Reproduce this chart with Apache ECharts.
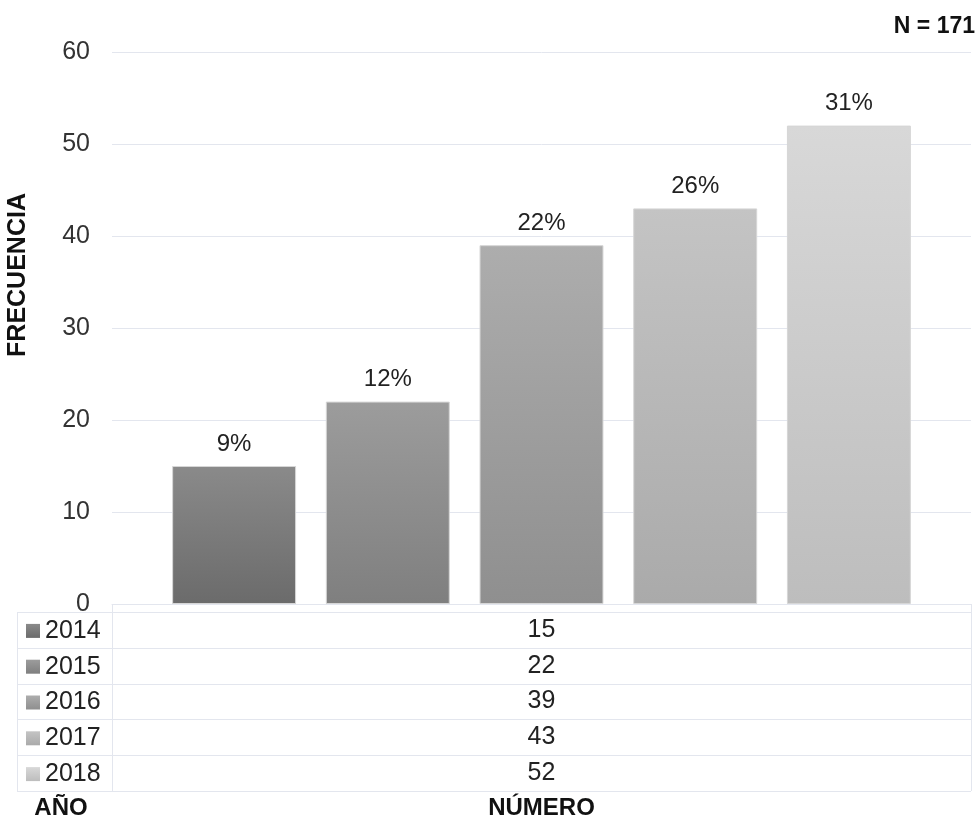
<!DOCTYPE html>
<html>
<head>
<meta charset="utf-8">
<script src="https://cdn.jsdelivr.net/npm/echarts@6/dist/echarts.min.js"></script>
<style>
html,body{margin:0;padding:0;background:#fff;}
#main{width:980px;height:825px;}
</style>
</head>
<body>
<div id="main"></div>
<script>
// ---- data ----
var years = ['2014', '2015', '2016', '2017', '2018'];
var values = [15, 22, 39, 43, 52];
var percentLabels = ['9%', '12%', '22%', '26%', '31%'];
var yTicks = { min: 0, max: 60, interval: 10 };
var totalLabel = 'N = 171';
var yTitle = 'FRECUENCIA';
var tableRowTitle = 'AÑO';
var tableColTitle = 'NÚMERO';

// ---- styles ----
var topColors = ['#8a8a8a', '#9c9c9c', '#adadad', '#c4c4c4', '#d8d8d8'];
var bottomColors = ['#6b6b6b', '#7f7f7f', '#8f8f8f', '#aaaaaa', '#bdbdbd'];
var lineColor = '#e3e6ee';
var font = 'Liberation Sans, Arial, sans-serif';

var chart = echarts.init(document.getElementById('main'), null, { renderer: 'canvas' });

var gridLeft = 112, gridRight = 9, gridTop = 52, axisY = 604;
var tableTop = 612, rowH = 35.8, tableLeft = 17, tableRight = 971, colX = 112;

var series = years.map(function (y, i) {
  return {
    name: y,
    type: 'bar',
    data: [values[i]],
    barGap: '24%',
    barCategoryGap: '14%',
    itemStyle: {
      color: new echarts.graphic.LinearGradient(0, 0, 0, 1, [
        { offset: 0, color: topColors[i] },
        { offset: 1, color: bottomColors[i] }
      ]),
      borderColor: '#d6d6d6',
      borderWidth: 1
    },
    label: {
      show: true,
      position: 'top',
      distance: 10,
      formatter: function () { return percentLabels[i]; },
      fontFamily: font,
      fontSize: 24,
      color: '#222'
    }
  };
});

var graphics = [];
// table lines
for (var r = 0; r <= years.length; r++) {
  var yy = Math.round(tableTop + r * rowH) + 0.5;
  graphics.push({ type: 'line', shape: { x1: tableLeft, y1: yy, x2: tableRight, y2: yy }, style: { stroke: lineColor, lineWidth: 1 }, silent: true });
}
graphics.push({ type: 'line', shape: { x1: tableLeft + 0.5, y1: tableTop, x2: tableLeft + 0.5, y2: tableTop + years.length * rowH }, style: { stroke: lineColor, lineWidth: 1 } });
graphics.push({ type: 'line', shape: { x1: colX + 0.5, y1: axisY, x2: colX + 0.5, y2: tableTop + years.length * rowH }, style: { stroke: lineColor, lineWidth: 1 } });
graphics.push({ type: 'line', shape: { x1: tableRight + 0.5, y1: axisY, x2: tableRight + 0.5, y2: tableTop + years.length * rowH }, style: { stroke: lineColor, lineWidth: 1 } });
// table values
values.forEach(function (v, i) {
  graphics.push({
    type: 'text',
    x: (colX + tableRight) / 2,
    y: tableTop + (i + 0.5) * rowH,
    style: { text: String(v), fontFamily: font, fontSize: 25, fill: '#222', textAlign: 'center', textVerticalAlign: 'middle' }
  });
});
// titles
graphics.push({ type: 'text', x: 18, y: 275, rotation: Math.PI / 2,
  style: { text: yTitle, fontFamily: font, fontSize: 25, fontWeight: 'bold', fill: '#111', textAlign: 'center', textVerticalAlign: 'middle' } });
graphics.push({ type: 'text', x: 61, y: 808,
  style: { text: tableRowTitle, fontFamily: font, fontSize: 24, fontWeight: 'bold', fill: '#111', textAlign: 'center', textVerticalAlign: 'middle' } });
graphics.push({ type: 'text', x: (colX + tableRight) / 2, y: 808,
  style: { text: tableColTitle, fontFamily: font, fontSize: 24, fontWeight: 'bold', fill: '#111', textAlign: 'center', textVerticalAlign: 'middle' } });
graphics.push({ type: 'text', x: 975, y: 27,
  style: { text: totalLabel, fontFamily: font, fontSize: 23, fontWeight: 'bold', fill: '#111', textAlign: 'right', textVerticalAlign: 'middle' } });

chart.setOption({
  animation: false,
  backgroundColor: '#fff',
  grid: { left: gridLeft, right: gridRight, top: gridTop, bottom: 825 - axisY, containLabel: false },
  legend: {
    orient: 'vertical',
    left: 26,
    top: tableTop + 1,
    padding: 0,
    itemWidth: 14,
    itemHeight: 14,
    itemGap: 0,
    icon: 'rect',
    selectedMode: false,
    data: years,
    itemStyle: { borderWidth: 0 },
    textStyle: { fontFamily: font, fontSize: 25, color: '#222', lineHeight: rowH, padding: [0, 0, 0, 0] }
  },
  xAxis: {
    type: 'category',
    data: [''],
    axisLine: { show: true, lineStyle: { color: lineColor, width: 1 } },
    axisTick: { show: false },
    axisLabel: { show: false }
  },
  yAxis: {
    type: 'value',
    min: yTicks.min,
    max: yTicks.max,
    interval: yTicks.interval,
    axisLine: { show: false },
    axisTick: { show: false },
    axisLabel: { fontFamily: font, fontSize: 25, color: '#333', margin: 22 },
    splitLine: { show: true, lineStyle: { color: lineColor, width: 1 } }
  },
  graphic: graphics,
  series: series
});
</script>
</body>
</html>
